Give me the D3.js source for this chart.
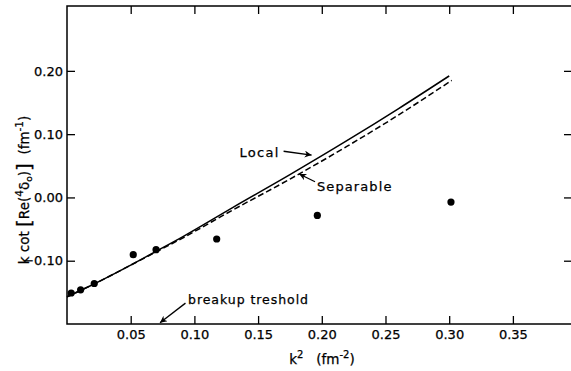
<!DOCTYPE html>
<html>
<head>
<meta charset="utf-8">
<script src="https://cdn.jsdelivr.net/npm/d3@7"></script>
<style>
  body { margin: 0; background: #fff; }
  svg text { font-family: "DejaVu Sans", sans-serif; fill: #000; stroke: #000; stroke-width: 0.25px; }
</style>
</head>
<body>
<div id="chart"></div>
<script>
// k^2 (fm^-2) values
const localK2 = [0, 0.02, 0.05, 0.07, 0.09, 0.13, 0.175, 0.22, 0.26, 0.30];
const localVal = [-0.157, -0.138, -0.107, -0.085, -0.063, -0.016, 0.036, 0.090, 0.140, 0.192];

const sepK2 = [0, 0.02, 0.05, 0.07, 0.09, 0.13, 0.175, 0.22, 0.26, 0.302];
const sepVal = [-0.157, -0.138, -0.107, -0.086, -0.065, -0.020, 0.029, 0.081, 0.130, 0.185];

const dotK2 = [0.0033, 0.0107, 0.0214, 0.052, 0.0699, 0.1175, 0.1965, 0.3014];
const dotVal = [-0.151, -0.146, -0.136, -0.0905, -0.0826, -0.0657, -0.0284, -0.0073];

const xTicks = [0.05, 0.10, 0.15, 0.20, 0.25, 0.30, 0.35];
const yTicks = [-0.10, 0.00, 0.10, 0.20];

const width = 571, height = 371;
const plot = { left: 67, right: 572, top: 6, bottom: 324 };

const svg = d3.select("#chart").append("svg")
  .attr("width", width).attr("height", height);

const x = d3.scaleLinear().domain([0, 0.3964]).range([plot.left, plot.right]);
const y = d3.scaleLinear().domain([-0.2, 0.3025]).range([plot.bottom, plot.top]);

// frame
svg.append("rect")
  .attr("x", plot.left).attr("y", plot.top)
  .attr("width", plot.right - plot.left).attr("height", plot.bottom - plot.top)
  .attr("fill", "none").attr("stroke", "#000").attr("stroke-width", 1.5);

const fmt = d3.format(".2f");

const xAxis = svg.append("g")
  .attr("transform", `translate(0,${plot.bottom})`)
  .call(d3.axisBottom(x).tickValues(xTicks).tickSize(-8).tickPadding(6).tickFormat(fmt));
const xTop = svg.append("g")
  .attr("transform", `translate(0,${plot.top})`)
  .call(d3.axisTop(x).tickValues(xTicks).tickSize(-8).tickFormat(""));
const yAxis = svg.append("g")
  .attr("transform", `translate(${plot.left},0)`)
  .call(d3.axisLeft(y).tickValues(yTicks).tickSize(-8).tickPadding(4).tickFormat(fmt));
const yRight = svg.append("g")
  .attr("transform", `translate(${plot.right},0)`)
  .call(d3.axisRight(y).tickValues(yTicks).tickSize(-8).tickFormat(""));

[xAxis, xTop, yAxis, yRight].forEach(g => {
  g.select(".domain").remove();
  g.selectAll("line").attr("stroke", "#000").attr("stroke-width", 1.3);
  g.selectAll("text").attr("font-size", 13).attr("font-family", "DejaVu Sans");
});

// curves
const line = d3.line().curve(d3.curveMonotoneX)
  .x(d => x(d[0])).y(d => y(d[1]));

svg.append("path")
  .datum(sepK2.map((k, i) => [k, sepVal[i]]))
  .attr("d", line)
  .attr("fill", "none").attr("stroke", "#000")
  .attr("stroke-width", 1.5).attr("stroke-dasharray", "6,3");

svg.append("path")
  .datum(localK2.map((k, i) => [k, localVal[i]]))
  .attr("d", line)
  .attr("fill", "none").attr("stroke", "#000").attr("stroke-width", 1.5);

svg.selectAll(".dot")
  .data(dotK2.map((k, i) => [k, dotVal[i]]))
  .enter().append("circle")
  .attr("class", "dot")
  .attr("cx", d => x(d[0])).attr("cy", d => y(d[1]))
  .attr("r", 3.6).attr("fill", "#000");

// arrowhead
svg.append("defs").append("marker")
  .attr("id", "arr")
  .attr("viewBox", "0 0 10 10")
  .attr("refX", 10).attr("refY", 5)
  .attr("markerWidth", 9).attr("markerHeight", 7)
  .attr("markerUnits", "userSpaceOnUse")
  .attr("orient", "auto")
  .append("path").attr("d", "M0,0 L10,5 L0,10 L3,5 Z").attr("fill", "#000");

function arrow(x1, y1, x2, y2) {
  svg.append("line")
    .attr("x1", x(x1)).attr("y1", y(y1))
    .attr("x2", x(x2)).attr("y2", y(y2))
    .attr("stroke", "#000").attr("stroke-width", 1.3)
    .attr("marker-end", "url(#arr)");
}

svg.append("text").attr("x", x(0.167)).attr("y", y(0.0645))
  .attr("text-anchor", "end").attr("font-size", 13).attr("letter-spacing", 1.3)
  .text("Local");
arrow(0.170, 0.073, 0.192, 0.067);

svg.append("text").attr("x", x(0.1962)).attr("y", y(0.010))
  .attr("font-size", 13).attr("letter-spacing", 1.1)
  .text("Separable");
arrow(0.1947, 0.0248, 0.1823, 0.037);

svg.append("text").attr("x", x(0.095)).attr("y", y(-0.169))
  .attr("font-size", 12.5).attr("letter-spacing", 0.95)
  .text("breakup treshold");
arrow(0.093, -0.167, 0.073, -0.198);

// axis titles
const xl = svg.append("text")
  .attr("x", 322).attr("y", 364)
  .attr("text-anchor", "middle").attr("font-size", 13.5);
xl.append("tspan").text("k");
xl.append("tspan").attr("dy", -6).attr("font-size", 10).text("2");
xl.append("tspan").attr("dy", 6).text("\u00a0\u00a0\u00a0(fm");
xl.append("tspan").attr("dy", -6).attr("font-size", 10).text("-2");
xl.append("tspan").attr("dy", 6).text(")");

const yl = svg.append("text")
  .attr("transform", "translate(29,190) rotate(-90)")
  .attr("text-anchor", "middle").attr("font-size", 13.5);
yl.append("tspan").text("k cot ");
yl.append("tspan").attr("font-size", 20).attr("dy", 2).text("[");
yl.append("tspan").attr("dy", -2).text("Re(");
yl.append("tspan").attr("dy", -6).attr("font-size", 10.5).text("4");
yl.append("tspan").attr("dy", 6).text("\u03b4");
yl.append("tspan").attr("dy", 3).attr("font-size", 9).text("o");
yl.append("tspan").attr("dy", -3).text(")");
yl.append("tspan").attr("font-size", 20).attr("dy", 2).text("]");
yl.append("tspan").attr("dy", -2).text("\u00a0\u00a0(fm");
yl.append("tspan").attr("dy", -6).attr("font-size", 10.5).text("-1");
yl.append("tspan").attr("dy", 6).text(")");
</script>
</body>
</html>
